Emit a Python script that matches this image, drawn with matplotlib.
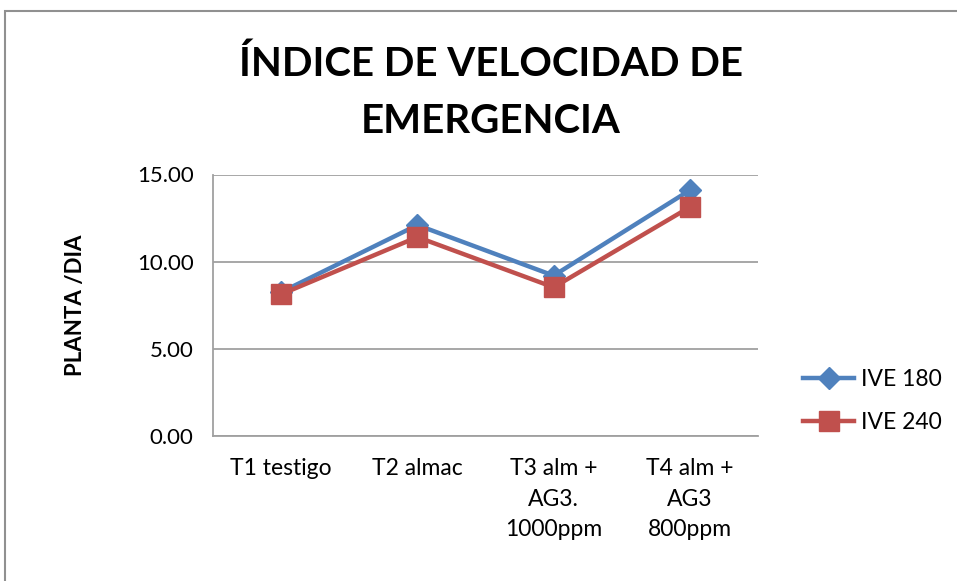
import matplotlib.pyplot as plt
from matplotlib.patches import Rectangle

plt.rcParams['font.family'] = ['Lato', 'DejaVu Sans']

categorias = ["T1 testigo", "T2 almac", "T3 alm +\nAG3.\n1000ppm", "T4 alm +\nAG3\n800ppm"]
ive_180 = [8.25, 12.10, 9.20, 14.10]
ive_240 = [8.13, 11.41, 8.53, 13.13]
yticks = [0, 5, 10, 15]

azul = "#4F81BD"
rojo = "#C0504D"

fig = plt.figure(figsize=(9.57, 5.81), dpi=100)
W, H = 957, 581
ax = fig.add_axes([213 / W, 1 - 436 / H, (758 - 213) / W, (436 - 174.5) / H])

x = list(range(len(categorias)))
ax.plot(x, ive_180, color=azul, lw=3.2, marker="D", ms=11, label="IVE 180", zorder=3)
ax.plot(x, ive_240, color=rojo, lw=3.2, marker="s", ms=14, label="IVE 240", zorder=4)

ax.set_xlim(-0.5, len(categorias) - 0.5)
ax.set_ylim(0, 15)
ax.set_yticks(yticks)
ax.set_yticklabels([f"{v:.2f}" for v in yticks], fontsize=16)
ax.set_xticks(x)
ax.set_xticklabels(categorias, fontsize=16.5, linespacing=1.55, va="top")
ax.tick_params(axis="both", length=0, pad=14, colors="#000000")
ax.tick_params(axis="x", pad=16)

ax.grid(axis="y", color="#A0A0A0", lw=1.3)
ax.set_axisbelow(True)
for s in ["top", "right"]:
    ax.spines[s].set_visible(False)
for s in ["left", "bottom"]:
    ax.spines[s].set_color("#A0A0A0")
    ax.spines[s].set_linewidth(1.3)

ax.set_ylabel("PLANTA /DIA", fontsize=16, fontweight="bold")
ax.yaxis.set_label_coords(-(213 - 86) / (758 - 213), 0.5)

fig.text(491 / W, 1 - 93 / H, "ÍNDICE DE VELOCIDAD DE\nEMERGENCIA", ha="center", va="center",
         fontsize=29, fontweight="bold", linespacing=1.65)

ax.legend(loc="center left", bbox_to_anchor=(792 / W, 1 - 401 / H), bbox_transform=fig.transFigure,
          frameon=False, fontsize=16.5, handlelength=2.2, handletextpad=0.3, labelspacing=0.95,
          borderpad=0)

fig.patches.append(Rectangle((5 / W, -0.1), 1.1, 1 - 11 / H + 0.1, transform=fig.transFigure,
                             fill=False, edgecolor="#909090", lw=1.5))

fig.savefig("out.png", dpi=100)
